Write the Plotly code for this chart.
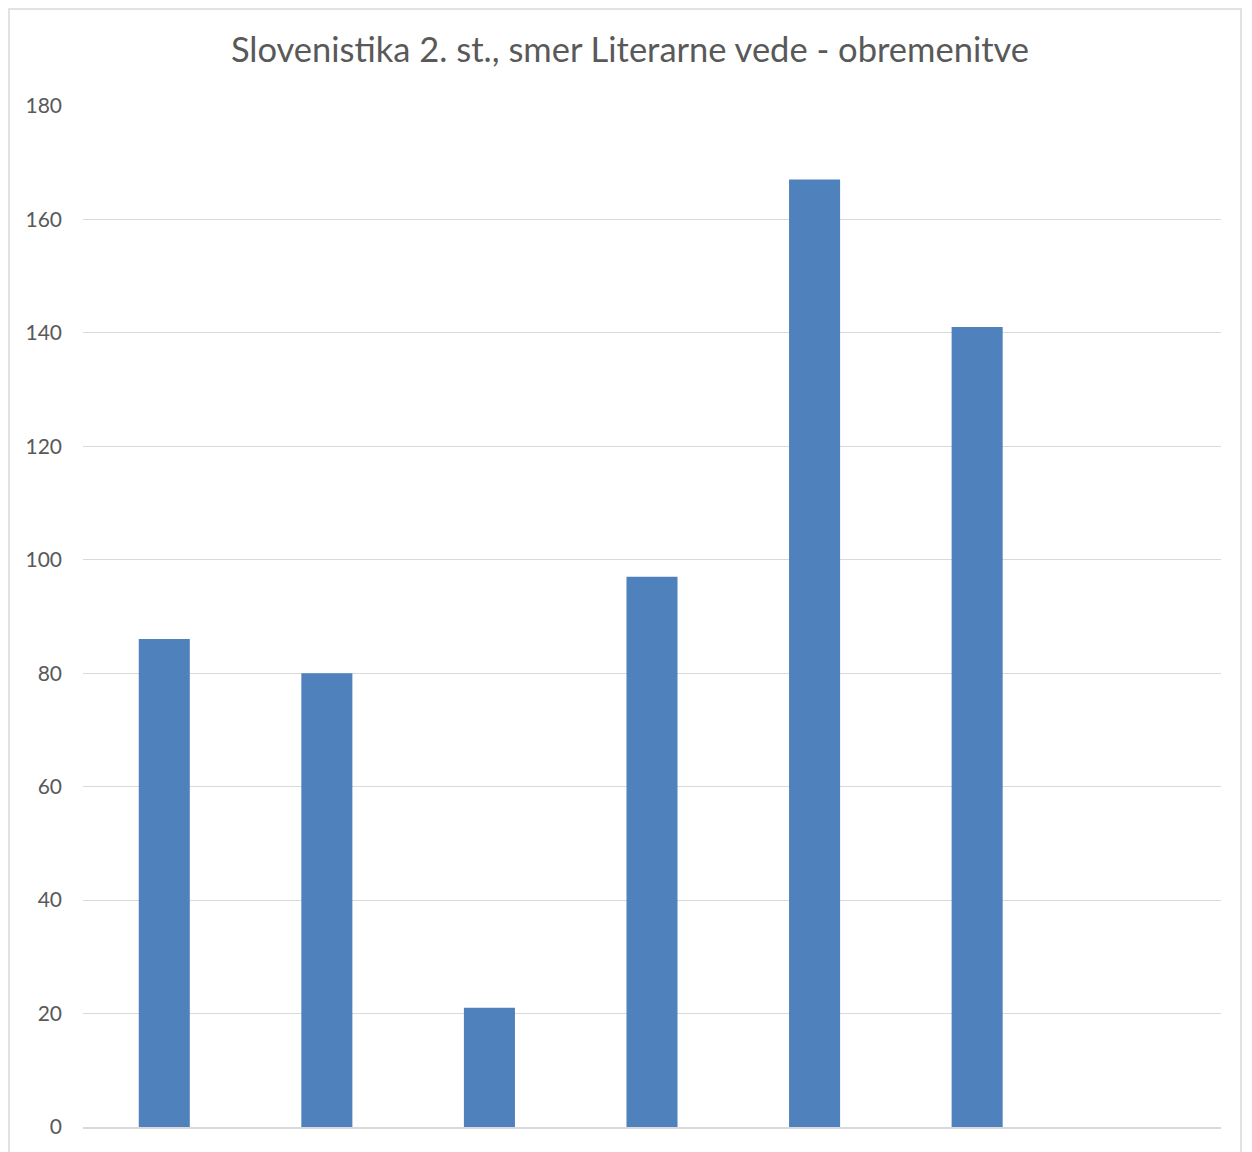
import plotly.graph_objects as go

categories = ["A", "B", "C", "D", "E", "F", "G"]
values = [86, 80, 21, 97, 167, 141, None]
title_text = "Slovenistika 2. st., smer Literarne vede - obremenitve"
y_ticks = [0, 20, 40, 60, 80, 100, 120, 140, 160, 180]

OFF = 8  # page body margin
W, H = 1252 - OFF, 1152 - OFF
L, R, T, B = 83 - OFF, 31, 105 - OFF, 25
pw, ph = W - L - R, H - T - B

def px_x(p):
    return (p - OFF - L) / pw

def px_y(p):
    return (H - B - (p - OFF)) / ph

fig = go.Figure(go.Bar(x=categories, y=values, marker=dict(color="#4f81bd", line=dict(width=0))))

fig.update_layout(
    width=W, height=H,
    margin=dict(l=L, r=R, t=T, b=B),
    paper_bgcolor="white", plot_bgcolor="white",
    bargap=0.686,
    showlegend=False,
    font=dict(family="Lato, 'Open Sans', sans-serif", color="#595959"),
    title=dict(text=title_text, x=0.5, xanchor="center", y=1 - (50 - OFF) / H, yanchor="middle",
               font=dict(size=34.5, color="#595959", family="Lato, sans-serif")),
    xaxis=dict(showticklabels=False, showgrid=False, showline=True, linecolor="#d9d9d9",
               linewidth=1.5, ticks=""),
    yaxis=dict(range=[0, 180.15], tickvals=y_ticks, showgrid=True, gridcolor="#d9d9d9",
               gridwidth=1.2, zeroline=False, showline=False, ticks="",
               tickfont=dict(size=21, color="#595959"), ticklabelstandoff=20),
    shapes=[dict(type="rect", xref="paper", yref="paper",
                 x0=px_x(9), x1=px_x(1241), y0=px_y(1170), y1=px_y(9),
                 line=dict(color="#d9d9d9", width=1.5), fillcolor="rgba(0,0,0,0)", layer="below")],
)

fig.write_html("out.html")
